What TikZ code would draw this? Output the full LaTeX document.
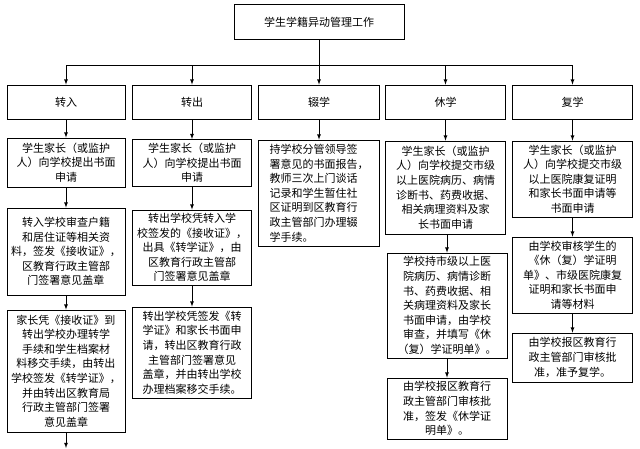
\documentclass[tikz,border=0pt]{standalone}
\usepackage{fontspec}
\newfontfamily\cjk{Noto Sans CJK SC}
\usetikzlibrary{positioning,arrows}
\begin{document}
\begin{tikzpicture}[x=1pt,y=-1pt]
  \tikzstyle{box}=[rectangle, draw=black, thick, align=center, inner sep=1pt, font=\cjk\fontsize{11}{14.6}\selectfont]
  \tikzstyle{connect}=[-latex, thick]
  \useasboundingbox (0,0) rectangle (640,448);
    \node[box, minimum width=170, minimum height=35] (title) at (319,22) {学生学籍异动管理工作};
    \coordinate (bus) at (319,65);
    \node[box, minimum width=118, minimum height=34] (zr) at (66,102) {转入};
    \node[box, minimum width=119, minimum height=34] (zc) at (192,102) {转出};
    \node[box, minimum width=121, minimum height=34] (cx) at (319,102) {辍学};
    \node[box, minimum width=120, minimum height=34] (xx) at (445.5,102) {休学};
    \node[box, minimum width=120, minimum height=34] (fx) at (572.5,102) {复学};
    % zhuanru
    \node[box, minimum width=118, minimum height=49] (zr1) at (66,162.5) {学生家长（或监护\\人）向学校提出书面\\申请};
    \node[box, minimum width=118, minimum height=87] (zr2) at (66,251.5) {转入学校审查户籍\\和居住证等相关资\\料，签发《接收证》，\\区教育行政主管部\\门签署意见盖章};
    \node[box, minimum width=118, minimum height=122] (zr3) at (66,371) {家长凭《接收证》到\\转出学校办理转学\\手续和学生档案材\\料移交手续，由转出\\学校签发《转学证》，\\并由转出区教育局\\行政主管部门签署\\意见盖章};
    \coordinate (zrend) at (66,448);
    % zhuanchu
    \node[box, minimum width=119, minimum height=47] (zc1) at (192,163) {学生家长（或监护\\人）向学校提出书面\\申请};
    \node[box, minimum width=119, minimum height=75] (zc2) at (192,247.5) {转出学校凭转入学\\校签发的《接收证》，\\出具《转学证》，由\\区教育行政主管部\\门签署意见盖章};
    \node[box, minimum width=119, minimum height=91] (zc3) at (192,352.5) {转出学校凭签发《转\\学证》和家长书面申\\请，转出区教育行政\\主管部门签署意见\\盖章，并由转出学校\\办理档案移交手续。};
    % chuoxue
    \node[box, minimum width=121, minimum height=106, align=left] (cx1) at (319,193) {持学校分管领导签\\署意见的书面报告，\\教师三次上门谈话\\记录和学生暂住社\\区证明到区教育行\\政主管部门办理辍\\学手续。};
    % xiuxue
    \node[box, minimum width=120, minimum height=93] (xx1) at (445.5,187.5) {学生家长（或监护\\人）向学校提交市级\\以上医院病历、病情\\诊断书、药费收据、\\相关病理资料及家\\长书面申请};
    \node[box, minimum width=120, minimum height=105] (xx2) at (447,305.5) {学校持市级以上医\\院病历、病情诊断\\书、药费收据、相\\关病理资料及家长\\书面申请，由学校\\审查，并填写《休\\（复）学证明单》。};
    \node[box, minimum width=120, minimum height=61] (xx3) at (447,408.5) {由学校报区教育行\\政主管部门审核批\\准，签发《休学证\\明单》。};
    % fuxue
    \node[box, minimum width=120, minimum height=76] (fx1) at (572.5,179) {学生家长（或监护\\人）向学校提交市级\\以上医院康复证明\\和家长书面申请等\\书面申请};
    \node[box, minimum width=120, minimum height=76] (fx2) at (572.5,275) {由学校审核学生的\\《休（复）学证明\\单》、市级医院康复\\证明和家长书面申\\请等材料};
    \node[box, minimum width=120, minimum height=49] (fx3) at (572.5,357.5) {由学校报区教育行\\政主管部门审核批\\准，准予复学。};
    \draw[thick] (title) -- (bus);
    \draw[thick] (zr|-bus) -- (fx|-bus);
    \foreach \h in {zr,zc,cx,xx,fx}
      \draw[connect] (\h|-bus) -- (\h);
    \path (zr) edge [connect] (zr1)
          (zr1) edge [connect] (zr2)
          (zr2) edge [connect] (zr3)
          (zr3) edge [connect] (zrend)
          (zc) edge [connect] (zc1)
          (zc1) edge [connect] (zc2)
          (zc2) edge [connect] (zc3)
          (cx) edge [connect] (cx1)
          (xx) edge [connect] (xx1)
          (fx) edge [connect] (fx1)
          (fx1) edge [connect] (fx2)
          (fx2) edge [connect] (fx3);
    \draw[connect] (xx1.south-|xx2) -- (xx2);
    \draw[connect] (xx2) -- (xx3);
\end{tikzpicture}
\end{document}
